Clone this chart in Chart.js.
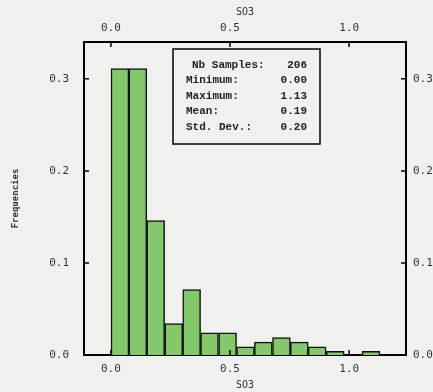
<!DOCTYPE html>
<html>
<head>
<meta charset="utf-8">
<script src="https://cdn.jsdelivr.net/npm/chart.js@4"></script>
<style>
    html, body { margin: 0; padding: 0; background: #f0f1ee; }
    #wrap { width: 433px; height: 392px; }
</style>
</head>
<body>
<div id="wrap"><canvas id="histChart" width="433" height="392"></canvas></div>
<script>
// bin centres (SO3), 15 bins of width 1.13/15
const binCenters = [0.038, 0.113, 0.188, 0.264, 0.339, 0.414, 0.490, 0.565, 0.640, 0.716, 0.791, 0.866, 0.942, 1.017, 1.092];
const frequencies = [0.311, 0.311, 0.146, 0.034, 0.071, 0.024, 0.024, 0.009, 0.014, 0.019, 0.014, 0.009, 0.004, 0.0, 0.004];
const xTicks = [0.0, 0.5, 1.0];
const yTicks = [0.0, 0.1, 0.2, 0.3];
const statLabels = ["Nb Samples:", "Minimum:", "Maximum:", "Mean:", "Std. Dev.:"];
const statValues = ["206", "0.00", "1.13", "0.19", "0.20"];

const tickFont = { family: "DejaVu Sans Mono", size: 11 };
const tickColor = "#333";

// inward tick marks + stats box
const extras = {
    id: "extras",
    afterDatasetsDraw(chart) {
        const ctx = chart.ctx;
        const a = chart.chartArea;
        const sx = chart.scales.x, sy = chart.scales.y;
        ctx.save();
        ctx.strokeStyle = "#000";
        ctx.lineWidth = 1.5;
        ctx.beginPath();
        xTicks.forEach(v => {
            const px = sx.getPixelForValue(v);
            ctx.moveTo(px, a.top); ctx.lineTo(px, a.top + 5);
            ctx.moveTo(px, a.bottom); ctx.lineTo(px, a.bottom - 5);
        });
        yTicks.forEach(v => {
            const py = sy.getPixelForValue(v);
            ctx.moveTo(a.left, py); ctx.lineTo(a.left + 5, py);
            ctx.moveTo(a.right, py); ctx.lineTo(a.right - 5, py);
        });
        ctx.stroke();

        // stats box
        const bx = a.left + 89, by = a.top + 7, bw = 147, bh = 95;
        ctx.fillStyle = "#f0f1ee";
        ctx.fillRect(bx, by, bw, bh);
        ctx.lineWidth = 1.5;
        ctx.strokeRect(bx, by, bw, bh);
        ctx.fillStyle = "#222";
        ctx.font = "bold 11px 'Liberation Mono'";
        ctx.textBaseline = "middle";
        statLabels.forEach((lab, i) => {
            const ty = by + 16 + i * 15.5;
            ctx.textAlign = "left";
            ctx.fillText(lab, bx + (i === 0 ? 19 : 13), ty);
            ctx.textAlign = "right";
            ctx.fillText(statValues[i], bx + bw - 13, ty);
        });
        ctx.restore();
    }
};

const axisX = {
    type: "linear",
    min: -0.113,
    max: 1.239,
    offset: false,
    grid: { display: false, drawTicks: false, offset: false },
    border: { display: true, color: "#000", width: 2 },
    afterBuildTicks: scale => { scale.ticks = xTicks.map(v => ({ value: v })); },
    ticks: { font: tickFont, color: tickColor, padding: 8, callback: v => v.toFixed(1), maxRotation: 0 },
    title: { display: true, text: "SO3", font: { family: "DejaVu Sans Mono", size: 10 }, color: tickColor }
};

const axisY = {
    type: "linear",
    min: 0,
    max: 0.34,
    grid: { display: false, drawTicks: false },
    border: { display: true, color: "#000", width: 2 },
    afterBuildTicks: scale => { scale.ticks = yTicks.map(v => ({ value: v })); },
    ticks: { font: tickFont, color: tickColor, callback: v => v.toFixed(1) }
};

new Chart(document.getElementById("histChart"), {
    type: "bar",
    data: {
        datasets: [{
            data: binCenters.map((c, i) => ({ x: c, y: frequencies[i] })),
            backgroundColor: "#83c86b",
            borderColor: "#111",
            borderWidth: 1.5,
            barPercentage: 1.0,
            categoryPercentage: 1.0,
            xAxisID: "x",
            yAxisID: "y"
        }]
    },
    options: {
        responsive: false,
        animation: false,
        layout: { padding: 0 },
        plugins: { legend: { display: false }, tooltip: { enabled: false } },
        scales: {
            x: Object.assign({}, axisX, {
                position: "bottom",
                ticks: Object.assign({}, axisX.ticks, { padding: 8 }),
                title: Object.assign({}, axisX.title, { padding: 1 }),
                afterFit: s => { s.height = 37; }
            }),
            x2: Object.assign({}, axisX, {
                position: "top",
                ticks: Object.assign({}, axisX.ticks, { padding: 7 }),
                title: Object.assign({}, axisX.title, { padding: { top: 6, bottom: 2 } }),
                afterFit: s => { s.height = 42; }
            }),
            y: Object.assign({}, axisY, {
                position: "left",
                ticks: Object.assign({}, axisY.ticks, { padding: 15 }),
                title: { display: true, text: "Frequencies", font: { family: "DejaVu Sans Mono", size: 9, weight: "bold" }, color: "#333", padding: { top: 10, bottom: 0 } },
                afterFit: s => { s.width = 84; }
            }),
            y2: Object.assign({}, axisY, {
                position: "right",
                ticks: Object.assign({}, axisY.ticks, { padding: 7 }),
                afterFit: s => { s.width = 27; }
            })
        }
    },
    plugins: [extras]
});
</script>
</body>
</html>
